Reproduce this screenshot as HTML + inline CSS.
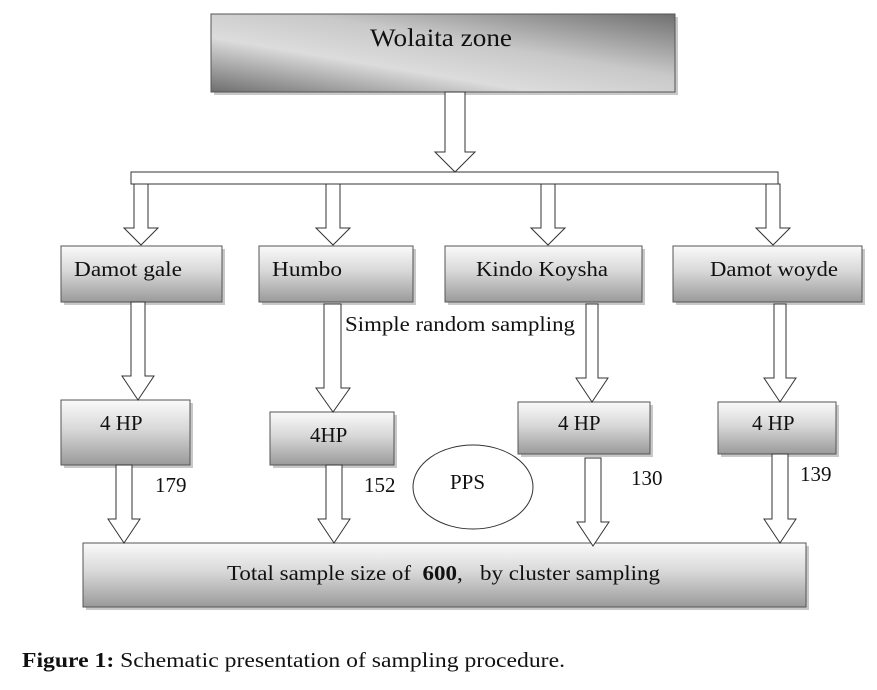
<!DOCTYPE html>
<html><head><meta charset="utf-8"><style>
html,body{margin:0;padding:0;background:#fff;width:877px;height:690px;overflow:hidden}
svg text{font-family:"Liberation Serif",serif;fill:#111;white-space:pre}
</style></head><body>
<svg width="877" height="690" viewBox="0 0 877 690" xmlns="http://www.w3.org/2000/svg">
<defs>
<linearGradient id="g" x1="0" y1="0" x2="0" y2="1">
<stop offset="0" stop-color="#fafafa"/><stop offset="0.45" stop-color="#d8d8d8"/><stop offset="1" stop-color="#9a9a9a"/>
</linearGradient>
<linearGradient id="w" x1="0" y1="1" x2="1" y2="0">
<stop offset="0" stop-color="#6e6e6e"/><stop offset="0.35" stop-color="#dcdcdc"/><stop offset="0.6" stop-color="#c8c8c8"/><stop offset="1" stop-color="#707070"/>
</linearGradient>
</defs>
<g fill="#c8c8c8">
<rect x="214" y="17" width="464" height="78"/>
<rect x="64" y="249" width="161" height="56"/><rect x="262" y="249" width="154" height="56"/>
<rect x="448" y="249" width="197" height="56"/><rect x="676" y="249" width="189" height="56"/>
<rect x="64" y="403" width="129" height="65"/><rect x="273" y="415" width="124" height="53"/>
<rect x="521" y="405" width="132" height="52"/><rect x="721" y="405" width="118" height="52"/>
<rect x="86" y="546" width="723" height="64"/>
</g>
<g stroke="#555" stroke-width="1">
<rect x="211" y="14" width="464" height="78" fill="url(#w)"/>
<rect x="61" y="246" width="161" height="56" fill="url(#g)"/>
<rect x="259" y="246" width="154" height="56" fill="url(#g)"/>
<rect x="445" y="246" width="197" height="56" fill="url(#g)"/>
<rect x="673" y="246" width="189" height="56" fill="url(#g)"/>
<rect x="61" y="400" width="129" height="65" fill="url(#g)"/>
<rect x="270" y="412" width="124" height="53" fill="url(#g)"/>
<rect x="518" y="402" width="132" height="52" fill="url(#g)"/>
<rect x="718" y="402" width="118" height="52" fill="url(#g)"/>
<rect x="83" y="543" width="723" height="64" fill="url(#g)"/>
</g>
<g fill="#fff" stroke="#333" stroke-width="1">
<polygon points="445,92 465,92 465,152 475,152 455,172 435,152 445,152"/>
<rect x="131" y="172" width="647" height="12"/>
<polygon points="134,184 148,184 148,228 158,228 141,245 124,228 134,228"/>
<polygon points="326,184 340,184 340,228 350,228 333,245 316,228 326,228"/>
<polygon points="541,184 555,184 555,228 565,228 548,245 531,228 541,228"/>
<polygon points="766,184 780,184 780,228 790,228 773,245 756,228 766,228"/>
<polygon points="131,302 145,302 145,376 154,376 138,400 122,376 131,376"/>
<polygon points="324,304 341,304 341,388 350,388 333,412 316,388 324,388"/>
<polygon points="586,304 598,304 598,378 608,378 592,402 576,378 586,378"/>
<polygon points="774,304 786,304 786,378 796,378 780,402 764,378 774,378"/>
<polygon points="116,465 132,465 132,519 140,519 124,543 108,519 116,519"/>
<polygon points="326,465 342,465 342,519 350,519 334,543 318,519 326,519"/>
<polygon points="585,458 601,458 601,522 609,522 593,546 577,522 585,522"/>
<polygon points="772,454 788,454 788,519 796,519 780,543 764,519 772,519"/>
</g>
<ellipse cx="473" cy="487" rx="60" ry="42" fill="#fff" stroke="#333"/>
<text x="370" y="46" font-size="25" textLength="142" lengthAdjust="spacingAndGlyphs">Wolaita zone</text>
<g font-size="21">
<text x="74" y="276" textLength="108" lengthAdjust="spacingAndGlyphs">Damot gale</text>
<text x="272" y="276" textLength="70" lengthAdjust="spacingAndGlyphs">Humbo</text>
<text x="476" y="276" textLength="132" lengthAdjust="spacingAndGlyphs">Kindo Koysha</text>
<text x="710" y="276" textLength="128" lengthAdjust="spacingAndGlyphs">Damot woyde</text>
<text x="345" y="331" textLength="230" lengthAdjust="spacingAndGlyphs">Simple random sampling</text>
<text x="100" y="430">4 HP</text>
<text x="310" y="442">4HP</text>
<text x="558" y="430">4 HP</text>
<text x="752" y="430">4 HP</text>
<text x="155" y="492">179</text>
<text x="364" y="492">152</text>
<text x="631" y="485">130</text>
<text x="800" y="481">139</text>
<text x="450" y="489">PPS</text>
<text x="227" y="580" textLength="433" lengthAdjust="spacingAndGlyphs">Total sample size of  <tspan font-weight="bold">600</tspan>,   by cluster sampling</text>
</g>
<text x="22" y="667" font-size="21" textLength="543" lengthAdjust="spacingAndGlyphs"><tspan font-weight="bold">Figure 1:</tspan> Schematic presentation of sampling procedure.</text>
</svg>
</body></html>
